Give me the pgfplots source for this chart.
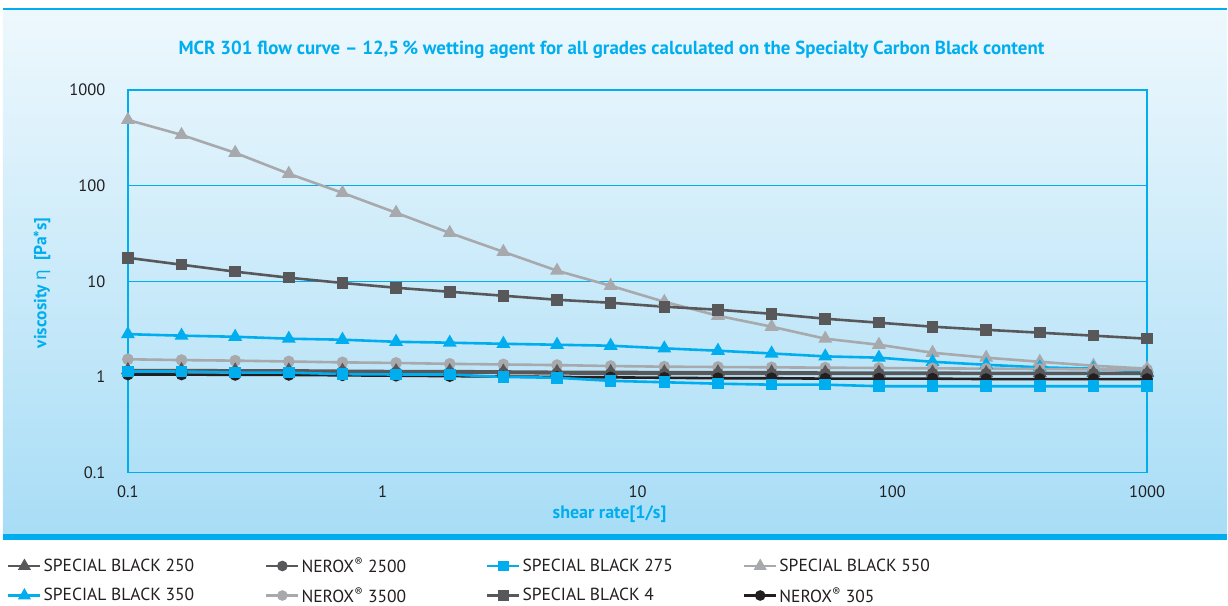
\documentclass[border=0pt]{standalone}
\usepackage{fontspec}
\setmainfont{PT Sans}
\newfontfamily\greekfont{Noto Sans}
\usepackage{pgfplots}
\pgfplotsset{compat=1.18}
\usepackage{pgfplotstable}
\definecolor{cyanB}{RGB}{0,174,239}
\definecolor{dgray}{RGB}{88,88,90}
\definecolor{lgray}{RGB}{167,169,172}
\definecolor{blk}{RGB}{35,31,32}
\definecolor{bgtop}{RGB}{238,248,253}
\definecolor{bgbot}{RGB}{168,221,246}

\pgfplotstableread{
x        sbA   nA    sbB   sbC   sbD   nB    sbE   nC
0.1      1.18  1.15  1.14  486   2.80  1.53  17.6  1.06
0.16238  1.18  1.15  1.14  339   2.70  1.50  14.9  1.06
0.26367  1.17  1.14  1.11  220   2.63  1.48  12.6  1.05
0.42813  1.17  1.14  1.11  133   2.51  1.45  10.9  1.05
0.69519  1.16  1.13  1.07  84    2.45  1.42  9.6   1.04
1.1288   1.15  1.12  1.06  52    2.33  1.40  8.55  1.03
1.8330   1.15  1.11  1.06  32    2.28  1.37  7.77  1.02
2.9764   1.14  1.10  1.00  20.3  2.22  1.35  7.06  1.01
4.8329   1.13  1.09  0.98  12.9  2.17  1.33  6.41  1.00
7.8476   1.13  1.08  0.91  8.97  2.12  1.30  5.96  0.99
12.743   1.12  1.08  0.88  6.1   1.99  1.28  5.42  0.98
20.691   1.12  1.08  0.85  4.36  1.88  1.27  5.04  0.97
33.598   1.12  1.08  0.83  3.35  1.76  1.26  4.57  0.97
54.556   1.11  1.08  0.83  2.51  1.64  1.25  4.06  0.96
88.587   1.11  1.08  0.80  2.17  1.59  1.24  3.69  0.96
143.84   1.11  1.08  0.80  1.79  1.44  1.23  3.35  0.96
233.57   1.10  1.08  0.80  1.59  1.34  1.22  3.11  0.95
379.27   1.10  1.08  0.80  1.44  1.26  1.21  2.90  0.95
615.85   1.10  1.08  0.80  1.31  1.22  1.20  2.70  0.95
1000     1.10  1.08  0.80  1.22  1.13  1.19  2.51  0.95
}\datatab

\begin{document}
\begin{tikzpicture}[x=1pt,y=1pt]
\fill[white] (0,0) rectangle (1228,606);
\shade[top color=bgtop,bottom color=bgbot] (3,597) rectangle (1228,71);
\draw[cyanB,line width=2pt] (3,597) -- (1228,597);
\fill[cyanB] (3,66) rectangle (1228,72);
\begin{axis}[
  at={(128pt,133pt)}, anchor=south west, scale only axis,
  width=1020pt, height=383pt,
  xmode=log, ymode=log,
  xmin=0.1, xmax=1000, ymin=0.1, ymax=1000,
  xtick={0.1,1,10,100,1000}, xticklabels={0.1,1,10,100,1000},
  ytick={0.1,1,10,100,1000}, yticklabels={0.1,1,10,100,1000},
  major tick length=0pt, minor tick length=0pt,
  axis line style={draw=cyanB, line width=1.4pt},
  tick label style={font=\fontsize{16.5}{16.5}\selectfont, text=blk},
  xticklabel style={yshift=-10pt},
  yticklabel style={xshift=-19pt},
  legend columns=4,
  legend cell align=left,
  legend image code/.code={\draw[#1,mark repeat=2,mark phase=2] plot coordinates {(0pt,0pt)(16pt,0pt)(32pt,0pt)};},
  legend style={at={(-0.1186,-0.2167)}, anchor=north west, draw=none, fill=none,
    font=\fontsize{17.5}{17.5}\selectfont, text=blk, inner sep=0pt, row sep=9pt,
    /tikz/column 2/.style={column sep=69pt},
    /tikz/column 4/.style={column sep=78pt},
    /tikz/column 6/.style={column sep=68pt}},
  every axis plot/.append style={line width=2.6pt, mark options={solid}},
]
\draw[cyanB, line width=1.3pt] (axis cs:0.1,10) -- (axis cs:1000,10);
\draw[cyanB, line width=1.3pt] (axis cs:0.1,100) -- (axis cs:1000,100);
\addplot[lgray, mark=triangle*, mark size=5.5pt, forget plot] table[x=x,y=sbC] {\datatab};
\addplot[dgray, mark=square*, mark size=4.5pt, forget plot] table[x=x,y=sbE] {\datatab};
\addplot[cyanB, mark=triangle*, mark size=5.5pt, forget plot] table[x=x,y=sbD] {\datatab};
\addplot[lgray, mark=*, mark size=4.5pt, forget plot] table[x=x,y=nB] {\datatab};
\addplot[dgray, mark=triangle*, mark size=5.5pt, forget plot] table[x=x,y=sbA] {\datatab};
\addplot[dgray, mark=*, mark size=4.5pt, forget plot] table[x=x,y=nA] {\datatab};
\addplot[blk, mark=*, mark size=4.5pt, forget plot] table[x=x,y=nC] {\datatab};
\addplot[cyanB, mark=square*, mark size=4.5pt, forget plot] table[x=x,y=sbB] {\datatab};

\addlegendimage{dgray, line width=2.5pt, mark=triangle*, mark size=5pt}
\addlegendentry{SPECIAL BLACK 250}
\addlegendimage{dgray, line width=2.5pt, mark=*, mark size=4pt}
\addlegendentry{NEROX\textsuperscript{®} 2500}
\addlegendimage{cyanB, line width=2.5pt, mark=square*, mark size=4pt}
\addlegendentry{SPECIAL BLACK 275}
\addlegendimage{lgray, line width=2.5pt, mark=triangle*, mark size=5pt}
\addlegendentry{SPECIAL BLACK 550}
\addlegendimage{cyanB, line width=2.5pt, mark=triangle*, mark size=5pt}
\addlegendentry{SPECIAL BLACK 350}
\addlegendimage{lgray, line width=2.5pt, mark=*, mark size=4pt}
\addlegendentry{NEROX\textsuperscript{®} 3500}
\addlegendimage{dgray, line width=2.5pt, mark=square*, mark size=4pt}
\addlegendentry{SPECIAL BLACK 4}
\addlegendimage{blk, line width=2.5pt, mark=*, mark size=4pt}
\addlegendentry{NEROX\textsuperscript{®} 305}
\end{axis}
\node[font=\bfseries\fontsize{18.9}{18.9}\selectfont, text=cyanB] at (612,556) {MCR 301 flow curve -- 12,5\,\% wetting agent for all grades calculated on the Specialty Carbon Black content};
\node[font=\bfseries\fontsize{17.5}{17.5}\selectfont, text=cyanB, rotate=90] at (42,323) {viscosity {\greekfont η}\ \ [Pa*s]};
\node[font=\bfseries\fontsize{18}{18}\selectfont, text=cyanB] at (610,91) {shear rate[1/s]};
\end{tikzpicture}
\end{document}
